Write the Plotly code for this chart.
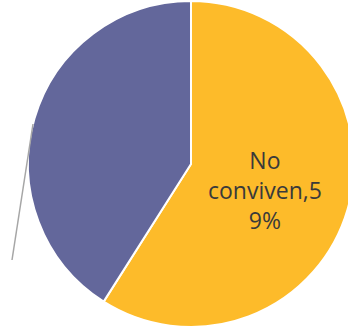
import plotly.graph_objects as go

labels = ["No conviven", "Conviven"]
values = [59, 41]
colors = ["#FDBB2A", "#63679B"]

W, H = 356, 332  # page window is 348 wide; right edge of pie is cropped as in original

fig = go.Figure()
fig.add_trace(go.Pie(
    labels=labels, values=values, sort=False, direction="clockwise", rotation=0,
    marker=dict(colors=colors, line=dict(color="white", width=2)),
    textinfo="none", hoverinfo="label+percent", showlegend=False,
    domain=dict(x=[28 / W, 354 / W], y=[1 - 327 / H, 1 - 1 / H]),
))

pct = round(values[0] / sum(values) * 100)
full = f"{labels[0]},{pct}%"          # "No conviven,59%"
wrapped = "<br>".join([full[:2], full[3:13], full[13:]])  # wrapped like the original
fig.add_annotation(text=wrapped, x=265 / W, y=1 - 190 / H, xref="paper", yref="paper",
                   showarrow=False, xanchor="center", yanchor="middle", align="center",
                   font=dict(family="Open Sans", size=23, color="#3A3A3A"))

fig.add_shape(type="line", xref="paper", yref="paper",
              x0=33 / W, y0=1 - 124 / H, x1=12 / W, y1=1 - 260 / H,
              line=dict(color="#A6A6A6", width=1.5))

fig.update_layout(width=W, height=H, margin=dict(l=0, r=0, t=0, b=0),
                  paper_bgcolor="white", plot_bgcolor="white")
fig.write_html("out.html", config={"displayModeBar": False},
               post_script="document.body.style.margin='0';document.body.style.overflow='hidden';")
